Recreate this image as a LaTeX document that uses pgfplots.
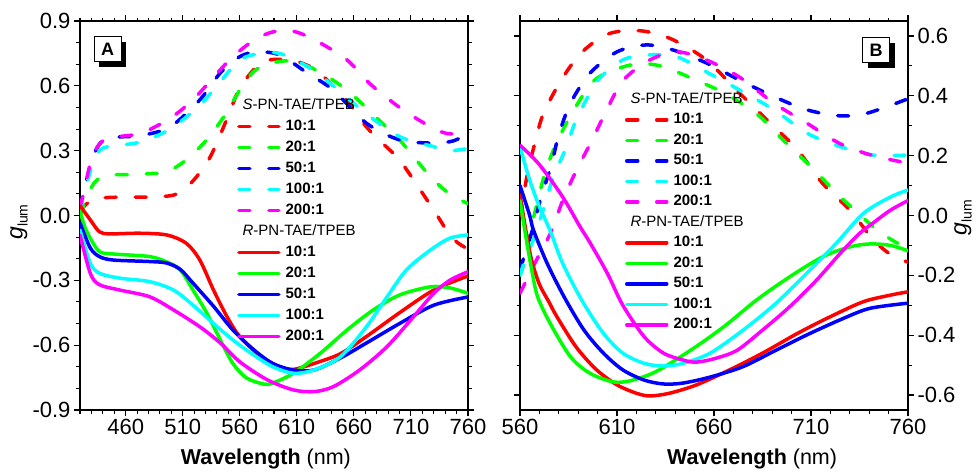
\documentclass[border=0pt]{standalone}
\usepackage{fontspec}
\setmainfont{Liberation Sans}
\usepackage{pgfplots}
\pgfplotsset{compat=1.18}
\usetikzlibrary{shadows}

\definecolor{cR}{RGB}{255,0,0}
\definecolor{cG}{RGB}{0,255,0}
\definecolor{cB}{RGB}{0,0,255}
\definecolor{cC}{RGB}{0,255,255}
\definecolor{cM}{RGB}{255,0,255}

\tikzset{
  boxlab/.style={draw, fill=white, line width=1pt, minimum width=27pt, minimum height=25pt,
    inner sep=0pt, font=\fontsize{18}{18}\selectfont\bfseries,
    drop shadow={shadow xshift=5pt, shadow yshift=-5pt, fill=black, opacity=1}},
}
\pgfplotsset{
  panel/.style={
    scale only axis, width=388pt, height=389pt,
    axis line style={line width=1.2pt},
    tick style={line width=1.1pt, black},
    major tick length=6pt, minor tick length=3.5pt,
    tick align=outside,
    ticklabel style={font=\fontsize{22}{22}\selectfont},
    /pgf/number format/assume math mode=true,
    yticklabel style={/pgf/number format/fixed, /pgf/number format/fixed zerofill, /pgf/number format/precision=1},
    xlabel={\textbf{Wavelength} (nm)},
    xlabel style={font=\fontsize{21.5}{21.5}\selectfont, anchor=base},
    ylabel={\textit{g}{\fontsize{14}{14}\selectfont\raisebox{-5pt}{lum}}},
    ylabel style={font=\fontsize{23}{23}\selectfont, anchor=center},
    legend image code/.code={\draw[#1] (0pt,0pt) -- (40pt,0pt);},
    legend cell align=left,
  },
  das/.style={line width=3.5pt, smooth, line cap=round, dash pattern=on 11pt off 19pt},
  sol/.style={line width=3.5pt, smooth, line cap=round, line join=round},
}

\begin{document}
\begin{tikzpicture}
\useasboundingbox (0pt,0pt) rectangle (976pt,475pt);

% ---------- panel A ----------
\begin{axis}[panel, at={(80pt,65pt)}, anchor=south west,
  xmin=420, xmax=760, ymin=-0.9, ymax=0.9,
  xtick={460,510,560,610,660,710,760}, minor xtick={420,430,...,760},
  ytick={-0.9,-0.6,-0.3,0,0.3,0.6,0.9},
  minor ytick={-0.8,-0.7,-0.5,-0.4,-0.2,-0.1,0.1,0.2,0.4,0.5,0.7,0.8},
  xlabel style={at={(axis description cs:0.479,-0.140)}},
  ylabel style={at={(axis description cs:-0.157,0.483)}},
  legend style={draw=none, fill=none, inner sep=0pt, outer sep=0pt,
    at={(axis description cs:0.405,0.801)}, anchor=north west,
    font=\fontsize{15}{15}\selectfont\bfseries,
    nodes={inner sep=0pt, text height=11pt, text depth=3.5pt},
    row sep=6.5pt, column sep=5pt},
]
\addlegendimage{empty legend}
\addlegendentry{\hspace*{-43pt}\mdseries\textit{S}-PN-TAE/TPEB}
\addplot[das, cR] coordinates {(420,0.02) (425,0.05) (432,0.075) (440,0.082) (455,0.085) (470,0.085) (490,0.087) (505,0.1) (519,0.16) (534,0.27) (549,0.45) (560,0.59) (575,0.69) (586,0.72) (604,0.72) (617,0.7) (630,0.66) (654,0.53) (671,0.41) (686,0.33) (700,0.257) (718,0.12) (733,0.0) (744,-0.09) (752,-0.13) (760,-0.155)};
\addlegendentry{10:1}
\addplot[das, cG] coordinates {(420,0.0) (425,0.07) (430,0.13) (435,0.165) (446,0.187) (467,0.19) (485,0.195) (496,0.2) (513,0.257) (531,0.35) (546,0.457) (560,0.58) (572,0.665) (584,0.70) (604,0.715) (627,0.673) (654,0.58) (679,0.456) (700,0.35) (727,0.18) (744,0.1) (760,0.055)};
\addlegendentry{20:1}
\addplot[das, cB] coordinates {(420,0.03) (423,0.1) (430,0.25) (437,0.33) (446,0.36) (473,0.37) (499,0.41) (525,0.535) (543,0.66) (560,0.735) (575,0.757) (595,0.743) (619,0.66) (642,0.58) (671,0.427) (700,0.35) (729,0.335) (747,0.345) (760,0.38)};
\addlegendentry{50:1}
\addplot[das, cC] coordinates {(420,0.03) (423,0.09) (430,0.22) (437,0.30) (446,0.32) (473,0.34) (499,0.40) (525,0.51) (543,0.62) (560,0.72) (578,0.75) (595,0.75) (619,0.69) (642,0.60) (671,0.47) (700,0.365) (729,0.32) (744,0.30) (760,0.31)};
\addlegendentry{100:1}
\addplot[das, cM] coordinates {(420,0.04) (423,0.1) (430,0.26) (437,0.33) (446,0.36) (473,0.38) (499,0.45) (519,0.535) (537,0.64) (554,0.735) (572,0.81) (586,0.845) (600,0.858) (613,0.843) (630,0.80) (654,0.72) (674,0.61) (700,0.50) (724,0.42) (741,0.38) (760,0.38)};
\addlegendentry{200:1}
\addlegendimage{empty legend}
\addlegendentry{\hspace*{-43pt}\mdseries\textit{R}-PN-TAE/TPEB}
\addplot[sol, cR] coordinates {(420,0.045) (429,-0.02) (437,-0.075) (446,-0.085) (472,-0.082) (496,-0.09) (513,-0.128) (525,-0.206) (537,-0.345) (549,-0.47) (560,-0.56) (578,-0.65) (595,-0.70) (607,-0.712) (625,-0.685) (648,-0.64) (671,-0.56) (700,-0.45) (730,-0.345) (760,-0.28)};
\addlegendentry{10:1}
\addplot[sol, cG] coordinates {(420,0.02) (424,-0.05) (429,-0.105) (437,-0.167) (449,-0.178) (481,-0.19) (496,-0.215) (508,-0.252) (519,-0.345) (531,-0.45) (543,-0.576) (554,-0.685) (566,-0.752) (581,-0.78) (589,-0.775) (607,-0.73) (630,-0.64) (654,-0.53) (677,-0.437) (700,-0.368) (727,-0.33) (744,-0.335) (760,-0.36)};
\addlegendentry{20:1}
\addplot[sol, cB] coordinates {(420,-0.035) (429,-0.15) (437,-0.19) (449,-0.206) (481,-0.213) (496,-0.22) (508,-0.25) (519,-0.313) (537,-0.42) (554,-0.53) (572,-0.62) (589,-0.685) (607,-0.715) (625,-0.715) (648,-0.66) (671,-0.59) (700,-0.5) (730,-0.415) (760,-0.377)};
\addlegendentry{50:1}
\addplot[sol, cC] coordinates {(420,-0.067) (429,-0.22) (437,-0.267) (455,-0.29) (481,-0.306) (502,-0.345) (519,-0.415) (537,-0.5) (554,-0.576) (572,-0.645) (589,-0.70) (607,-0.73) (625,-0.715) (648,-0.655) (671,-0.515) (689,-0.377) (706,-0.252) (727,-0.16) (744,-0.105) (760,-0.09)};
\addlegendentry{100:1}
\addplot[sol, cM] coordinates {(420,-0.09) (429,-0.267) (437,-0.32) (455,-0.345) (481,-0.376) (502,-0.437) (525,-0.515) (543,-0.59) (560,-0.677) (584,-0.76) (607,-0.807) (625,-0.815) (642,-0.792) (665,-0.715) (689,-0.607) (712,-0.47) (730,-0.36) (744,-0.3) (760,-0.26)};
\addlegendentry{200:1}
\node[boxlab] at (axis description cs:0.071,0.927) {A};
\end{axis}

% ---------- panel B ----------
\begin{axis}[panel, at={(520pt,65pt)}, anchor=south west,
  xmin=560, xmax=760, ymin=-0.65, ymax=0.65,
  xtick={560,610,660,710,760}, minor xtick={560,570,...,760},
  ytick={-0.6,-0.4,-0.2,0,0.2,0.4,0.6},
  minor ytick={-0.5,-0.3,-0.1,0.1,0.3,0.5},
  yticklabel pos=right,
  xlabel style={at={(axis description cs:0.598,-0.140)}},
  ylabel style={at={(axis description cs:1.142,0.494)}},
  legend style={draw=none, fill=none, inner sep=0pt, outer sep=0pt,
    at={(axis description cs:0.2706,0.817)}, anchor=north west,
    font=\fontsize{15}{15}\selectfont\bfseries,
    nodes={inner sep=0pt, text height=11pt, text depth=3.5pt},
    row sep=6pt, column sep=5pt},
]
\addlegendimage{empty legend}
\addlegendentry{\hspace*{-43pt}\mdseries\textit{S}-PN-TAE/TPEB}
\addplot[das, cR] coordinates {(560,0.0) (564,0.145) (568,0.25) (572,0.34) (581,0.45) (591,0.54) (603,0.60) (613,0.617) (625,0.615) (639,0.587) (656,0.52) (673,0.41) (691,0.296) (703,0.22) (716,0.107) (730,0.018) (742,-0.08) (751,-0.13) (760,-0.156)};
\addlegendentry{10:1}
\addplot[das, cG] coordinates {(560,-0.2) (562,-0.16) (565,-0.06) (569,0.045) (573,0.145) (579,0.245) (587.5,0.35) (598,0.45) (610,0.49) (622,0.508) (634,0.497) (648,0.46) (665,0.41) (682,0.34) (696,0.25) (710,0.163) (725,0.063) (742,-0.037) (752,-0.083) (760,-0.11)};
\addlegendentry{20:1}
\addplot[das, cB] coordinates {(560,-0.18) (562,-0.14) (567,-0.035) (571,0.065) (576,0.165) (580,0.27) (586,0.375) (596,0.475) (610,0.547) (625,0.57) (639,0.553) (656,0.51) (673,0.453) (691,0.397) (708,0.353) (725,0.333) (739,0.342) (760,0.39)};
\addlegendentry{50:1}
\addplot[das, cC] coordinates {(560,-0.2) (563,-0.14) (567,-0.08) (572,0.02) (577,0.125) (584,0.23) (589,0.32) (600,0.45) (613,0.52) (627,0.537) (641,0.53) (656,0.48) (673,0.42) (691,0.353) (708,0.275) (725,0.23) (742,0.202) (760,0.202)};
\addlegendentry{100:1}
\addplot[das, cM] coordinates {(560,-0.26) (568,-0.155) (576,-0.055) (582,0.05) (589,0.15) (597,0.25) (603,0.33) (613,0.45) (627,0.52) (641,0.547) (656,0.52) (673,0.463) (691,0.375) (708,0.308) (725,0.24) (742,0.2) (760,0.175)};
\addlegendentry{200:1}
\addlegendimage{empty legend}
\addlegendentry{\hspace*{-43pt}\mdseries\textit{R}-PN-TAE/TPEB}
\addplot[sol, cR] coordinates {(560,0.07) (563,-0.05) (566,-0.15) (570,-0.23) (575,-0.29) (579,-0.338) (589,-0.44) (599.5,-0.516) (610,-0.566) (620,-0.594) (627,-0.603) (637,-0.594) (651,-0.566) (668,-0.516) (685,-0.46) (703,-0.394) (720,-0.338) (737,-0.288) (751,-0.266) (760,-0.255)};
\addlegendentry{10:1}
\addplot[sol, cG] coordinates {(560,0.05) (563,-0.07) (566,-0.18) (569,-0.27) (575.5,-0.36) (586,-0.472) (596,-0.527) (608,-0.556) (617,-0.552) (630,-0.522) (648,-0.45) (665,-0.372) (682,-0.282) (699,-0.205) (716,-0.138) (730,-0.105) (740.5,-0.095) (751,-0.1) (760,-0.118)};
\addlegendentry{20:1}
\addplot[sol, cB] coordinates {(560,0.1) (565,0.0) (567,-0.05) (574,-0.16) (583,-0.275) (593,-0.383) (603,-0.46) (613,-0.516) (624,-0.55) (634,-0.563) (644,-0.56) (658,-0.54) (675,-0.505) (692,-0.45) (709.5,-0.394) (727,-0.343) (740.5,-0.31) (760,-0.293)};
\addlegendentry{50:1}
\addplot[sol, cC] coordinates {(560,0.23) (565,0.118) (570,0.03) (575.5,-0.05) (582,-0.16) (592,-0.285) (603,-0.394) (613,-0.46) (624,-0.494) (634,-0.503) (644,-0.494) (658,-0.46) (675,-0.383) (692,-0.293) (709.5,-0.182) (723,-0.093) (737,0.007) (751,0.062) (760,0.085)};
\addlegendentry{100:1}
\addplot[sol, cM] coordinates {(560,0.235) (570,0.17) (582,0.062) (591,-0.038) (596,-0.09) (605,-0.193) (613,-0.3) (624,-0.405) (634,-0.46) (644,-0.483) (651,-0.49) (661,-0.477) (672,-0.45) (685,-0.383) (699,-0.305) (713,-0.215) (725,-0.127) (735,-0.06) (742,-0.025) (751,0.018) (760,0.05)};
\addlegendentry{200:1}
\node[boxlab] at (axis description cs:0.9175,0.925) {B};
\end{axis}
\end{tikzpicture}
\end{document}
